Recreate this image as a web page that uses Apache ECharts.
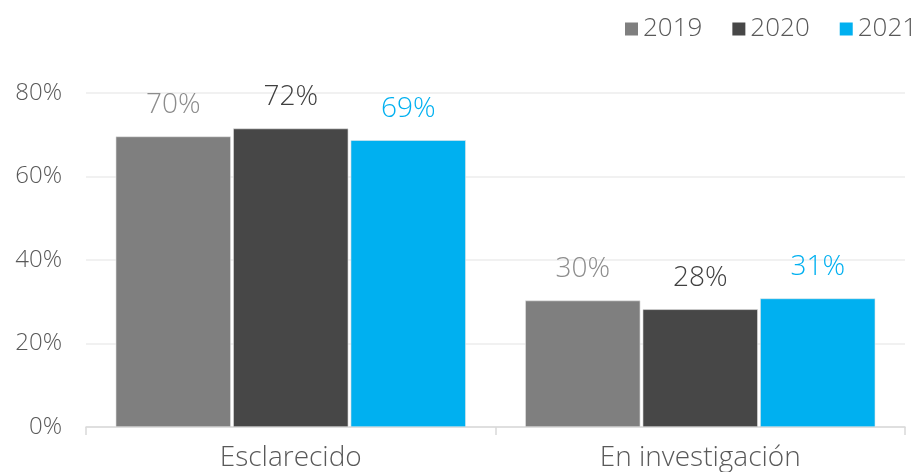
<!DOCTYPE html>
<html>
<head>
<meta charset="utf-8">
<script src="https://cdn.jsdelivr.net/npm/echarts@6/dist/echarts.min.js"></script>
<style>
  html, body { margin: 0; padding: 0; background: #fff; }
  #chart { width: 920px; height: 472px; }
</style>
</head>
<body>
<div id="chart"></div>
<script>
// categories and yearly values (percent)
const categories = ['Esclarecido', 'En investigación']
const years = ['2019', '2020', '2021']
const values2019 = [69.6, 30.3]
const values2020 = [71.5, 28.2]
const values2021 = [68.7, 30.8]
const yTicks = [0, 20, 40, 60, 80]

const colors = ['#7f7f7f', '#474747', '#00b0f0']
const labelColors = ['#8c8c8c', '#404040', '#00b0f0']
const font = 'Open Sans'

const chart = echarts.init(document.getElementById('chart'))

const makeSeries = (name, data, i) => ({
  name: name,
  type: 'bar',
  data: data,
  barGap: '2%',
  barCategoryGap: '14.5%',
  itemStyle: { color: colors[i], borderColor: '#e6e6e6', borderWidth: 0.6 },
  label: {
    show: true,
    position: 'top',
    distance: 17,
    color: labelColors[i],
    fontFamily: font,
    fontWeight: 300,
    fontSize: 28,
    formatter: (p) => Math.round(p.value) + '%'
  }
})

chart.setOption({
  animation: false,
  color: colors,
  legend: {
    data: years,
    left: 620,
    top: 11,
    width: 400,
    orient: 'horizontal',
    icon: 'rect',
    itemWidth: 13,
    itemHeight: 13,
    itemGap: 30,
    itemStyle: { borderWidth: 0 },
    textStyle: { color: '#595959', fontFamily: font, fontWeight: 300, fontSize: 26 }
  },
  grid: { left: 86, right: 15, top: 93, bottom: 44, containLabel: false },
  xAxis: {
    type: 'category',
    data: categories,
    axisLine: { show: true, lineStyle: { color: '#d9d9d9', width: 1.5 } },
    axisTick: { show: true, length: 8, lineStyle: { color: '#d9d9d9', width: 1.5 } },
    axisLabel: { color: '#595959', fontFamily: font, fontWeight: 300, fontSize: 28, margin: 17 }
  },
  yAxis: {
    type: 'value',
    min: yTicks[0],
    max: yTicks[yTicks.length - 1],
    interval: 20,
    axisLine: { show: false },
    axisTick: { show: false },
    splitLine: { lineStyle: { color: '#ececec', width: 1.5 } },
    axisLabel: {
      color: '#595959',
      fontFamily: font,
      fontWeight: 300,
      fontSize: 24,
      margin: 24,
      formatter: (v) => v + '%'
    }
  },
  series: [
    makeSeries(years[0], values2019, 0),
    makeSeries(years[1], values2020, 1),
    makeSeries(years[2], values2021, 2)
  ]
})
</script>
</body>
</html>
